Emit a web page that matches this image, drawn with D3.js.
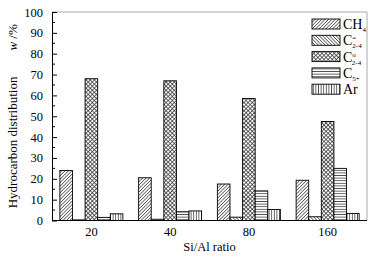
<!DOCTYPE html>
<html><head><meta charset="utf-8">
<script src="https://cdn.jsdelivr.net/npm/d3@7"></script>
<style>body{margin:0;background:#fff}svg{display:block;font-family:"Liberation Serif","Times New Roman",serif}</style>
</head><body><svg id="c" width="374" height="259"></svg>
<script>
const categories = ["20","40","80","160"];
const seriesNames = ["CH4","C2-4=","C2-4o","C5+","Ar"];
const ch4   = [24, 20.5, 17.5, 19.3];
const c24ene = [0.3, 0.6, 1.6, 1.8];
const c24ane = [68, 67, 58.5, 47.5];
const c5p   = [1.5, 4.2, 14.2, 25];
const ar    = [3.2, 4.6, 5.3, 3.4];
const seriesValues = [ch4, c24ene, c24ane, c5p, ar];
const yTicks = [0,10,20,30,40,50,60,70,80,90,100];

const svg = d3.select("#c");
const L=52, R=367, T=12, B=220.5;
const x = d3.scaleBand().domain(categories).range([L,R]);
const y = d3.scaleLinear().domain([0,100]).range([B,T]);
const bw = 12.6;

const defs = svg.append("defs");
function linePat(id, rot, sp, sw, col){
  const p = defs.append("pattern").attr("id",id).attr("patternUnits","userSpaceOnUse")
    .attr("width",sp).attr("height",sp).attr("patternTransform",`rotate(${rot})`);
  p.append("rect").attr("width",sp).attr("height",sp).attr("fill","#fff");
  p.append("line").attr("x1",sp/2).attr("x2",sp/2).attr("y1",0).attr("y2",sp).attr("stroke",col).attr("stroke-width",sw);
}
linePat("p0",45,2.4,0.6,"#222");
linePat("p1",-45,2.4,0.6,"#222");
linePat("p3",90,2.6,0.7,"#222");
linePat("p4",0,2.6,0.7,"#222");
{
  const sp = 2.9;
  const p = defs.append("pattern").attr("id","p2").attr("patternUnits","userSpaceOnUse")
    .attr("width",sp).attr("height",sp).attr("patternTransform","rotate(45)");
  p.append("rect").attr("width",sp).attr("height",sp).attr("fill","#fff");
  p.append("line").attr("x1",sp/2).attr("x2",sp/2).attr("y1",0).attr("y2",sp).attr("stroke","#333").attr("stroke-width",0.75);
  p.append("line").attr("y1",sp/2).attr("y2",sp/2).attr("x1",0).attr("x2",sp).attr("stroke","#333").attr("stroke-width",0.75);
}

// frame top/right
svg.append("line").attr("x1",L).attr("x2",R).attr("y1",T).attr("y2",T).attr("stroke","#aaa").attr("stroke-width",1);
svg.append("line").attr("x1",R).attr("x2",R).attr("y1",T).attr("y2",B).attr("stroke","#aaa").attr("stroke-width",1);

// bars
categories.forEach((c,ci)=>{
  const cx = x(c)+x.bandwidth()/2;
  seriesValues.forEach((vals,si)=>{
    const x0 = cx - 2.5*bw + si*bw;
    svg.append("rect").attr("x",x0).attr("width",bw)
      .attr("y",y(vals[ci])).attr("height",B-y(vals[ci]))
      .attr("fill",`url(#p${si})`).attr("stroke","#000").attr("stroke-width",0.9);
  });
});

// y axis
const yAx = svg.append("g").attr("transform",`translate(${L},0)`)
  .call(d3.axisLeft(y).tickValues(yTicks).tickSizeInner(-5).tickSizeOuter(0).tickPadding(9));
yAx.select(".domain").attr("stroke","#000");
yAx.selectAll("text").attr("font-size",12.5).attr("font-family","Liberation Serif").attr("fill","#000");
const minor = d3.range(5,100,10);
svg.append("g").selectAll("line").data(minor).join("line")
  .attr("x1",L).attr("x2",L+3).attr("y1",d=>y(d)).attr("y2",d=>y(d)).attr("stroke","#000");

// x axis
const xAx = svg.append("g").attr("transform",`translate(0,${B})`)
  .call(d3.axisBottom(x).tickSize(0).tickPadding(7));
xAx.select(".domain").attr("stroke","#000").attr("d",`M${L},0H${R}`);
xAx.selectAll("text").attr("font-size",12.5).attr("font-family","Liberation Serif").attr("fill","#000");

// axis titles
svg.append("text").attr("x",(L+R)/2).attr("y",251).attr("text-anchor","middle").attr("font-size",12.5).text("Si/Al ratio");
const yt = svg.append("text").attr("transform",`translate(17,${(T+B)/2}) rotate(-90)`).attr("text-anchor","middle").attr("font-size",13);
yt.append("tspan").text("Hydrocarbon distribution\u2003\u2003");
yt.append("tspan").attr("font-style","italic").text("w");
yt.append("tspan").text(" /%");

// legend
const lg = svg.append("g");
const lx=312, ly0=19, lstep=16.3, lw=28, lh=10;
const labels = [
  [["CH",""],["4","sub"]],
  [["C",""],["=","sup"],["2-4","sub2"]],
  [["C",""],["o","sup"],["2-4","sub2"]],
  [["C",""],["5+","sub"]],
  [["Ar",""]]
];
seriesNames.forEach((n,i)=>{
  const yy = ly0 + i*lstep;
  lg.append("rect").attr("x",lx).attr("y",yy).attr("width",lw).attr("height",lh)
    .attr("fill",`url(#p${i})`).attr("stroke","#000").attr("stroke-width",0.9);
  const t = lg.append("text").attr("x",lx+lw+3).attr("y",yy+lh).attr("font-size",14);
  labels[i].forEach(([s,k])=>{
    const ts = t.append("tspan").text(s);
    if(k==="sub"){ ts.attr("font-size",7).attr("dy",3); }
    if(k==="sup"){ ts.attr("font-size",7).attr("dy",-5); }
    if(k==="sub2"){ ts.attr("font-size",7).attr("dy",8).attr("dx",-4); }
  });
});
</script></body></html>
